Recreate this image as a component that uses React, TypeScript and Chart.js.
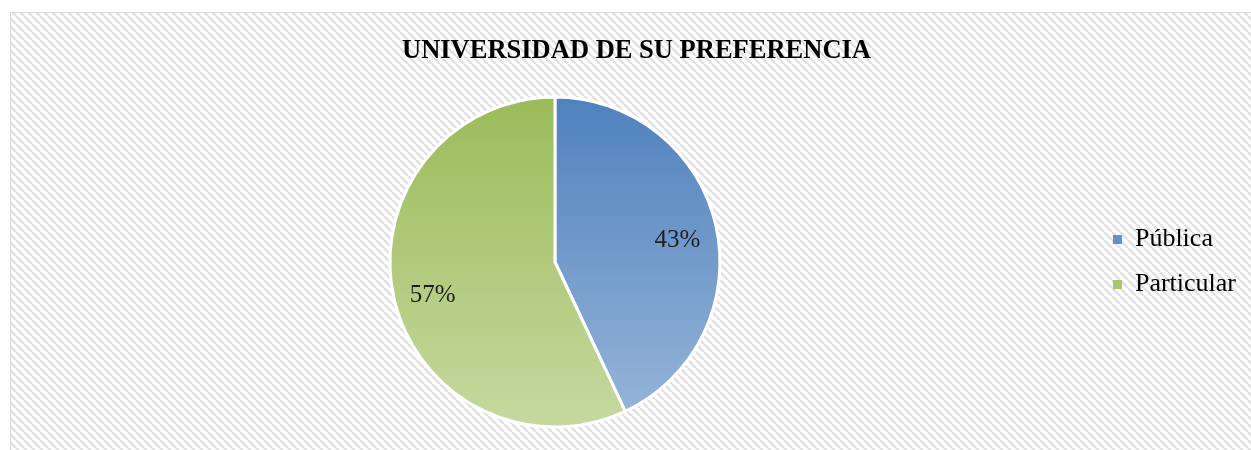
import React, { useEffect, useRef } from 'react';
import { Chart, registerables } from 'chart.js';

Chart.register(...registerables);

const TITLE = 'UNIVERSIDAD DE SU PREFERENCIA';
const categories = ['Pública', 'Particular'];
const values = [43, 57];
const topColors = ['#4F81BD', '#9BBB59'];
const bottomColors = ['#98B6D9', '#C6D9A0'];
const legendColors = ['#6690C8', '#A9C56E'];

const SERIF = "'Liberation Serif', 'Times New Roman', serif";

function makePattern(ctx: CanvasRenderingContext2D) {
  const p = document.createElement('canvas');
  p.width = 8;
  p.height = 8;
  const c = p.getContext('2d')!;
  c.fillStyle = '#ffffff';
  c.fillRect(0, 0, 8, 8);
  c.strokeStyle = '#e1e1e1';
  c.lineWidth = 2.6;
  for (const off of [-8, 0, 8]) {
    c.beginPath();
    c.moveTo(off, 0);
    c.lineTo(off + 8, 8);
    c.stroke();
  }
  return ctx.createPattern(p, 'repeat');
}

const backgroundPlugin = {
  id: 'bgPattern',
  beforeDraw(chart: any) {
    const ctx = chart.ctx as CanvasRenderingContext2D;
    ctx.save();
    ctx.fillStyle = '#ffffff';
    ctx.fillRect(0, 0, chart.width, chart.height);
    const pat = makePattern(ctx);
    if (pat) {
      ctx.fillStyle = pat;
      ctx.fillRect(10, 12, chart.width, chart.height);
    }
    ctx.strokeStyle = '#d9d9d9';
    ctx.lineWidth = 1;
    ctx.strokeRect(10.5, 12.5, chart.width + 10, chart.height + 10);
    ctx.restore();
  },
};

const titleShiftPlugin = {
  id: 'titleShift',
  afterLayout(chart: any) {
    const t = chart.titleBlock;
    if (t) {
      t.left += 5.5;
      t.right += 5.5;
    }
  },
};

const pctLabelPlugin = {
  id: 'pctLabels',
  afterDatasetsDraw(chart: any) {
    const meta = chart.getDatasetMeta(0);
    const ctx = chart.ctx as CanvasRenderingContext2D;
    ctx.save();
    ctx.font = `25px ${SERIF}`;
    ctx.fillStyle = '#1f1f1f';
    ctx.textAlign = 'center';
    ctx.textBaseline = 'middle';
    meta.data.forEach((arc: any, i: number) => {
      const { x, y, startAngle, endAngle, outerRadius } = arc.getProps(
        ['x', 'y', 'startAngle', 'endAngle', 'outerRadius'],
        true
      );
      const mid = (startAngle + endAngle) / 2;
      const rr = outerRadius * 0.76;
      ctx.fillText(`${values[i]}%`, x + Math.cos(mid) * rr, y + Math.sin(mid) * rr + 6);
    });
    ctx.restore();
  },
};

export default function App() {
  const ref = useRef<HTMLCanvasElement>(null);

  useEffect(() => {
    const canvas = ref.current!;
    const chart = new Chart(canvas, {
      type: 'pie',
      data: {
        labels: categories,
        datasets: [
          {
            data: values,
            borderColor: '#ffffff',
            borderWidth: 3,
            backgroundColor: (c: any) => {
              const i = c.dataIndex ?? 0;
              const ch = c.chart;
              const area = ch.chartArea;
              if (!area) return topColors[i];
              const cy = (area.top + area.bottom) / 2;
              const r = Math.min(area.width, area.height) / 2;
              const g = ch.ctx.createLinearGradient(0, cy - r, 0, cy + r);
              g.addColorStop(0, topColors[i]);
              g.addColorStop(1, bottomColors[i]);
              return g;
            },
          },
        ],
      },
      options: {
        responsive: false,
        animation: false,
        events: [],
        layout: { padding: { left: 16, right: 5, top: 14, bottom: 21.5 } },
        plugins: {
          title: {
            display: true,
            text: TITLE,
            color: '#000000',
            font: { family: SERIF, size: 26.5, weight: 'bold' },
            padding: { top: 21, bottom: 28.7 },
          },
          legend: {
            display: true,
            position: 'right',
            fullSize: false,
            labels: {
              font: { family: SERIF, size: 26 },
              color: '#000000',
              boxWidth: 9,
              boxHeight: 9,
              padding: 19,
              generateLabels: () =>
                categories.map((text, i) => ({
                  text,
                  fillStyle: legendColors[i],
                  strokeStyle: legendColors[i],
                  lineWidth: 0,
                  hidden: false,
                  index: i,
                  fontColor: '#000000',
                })),
            },
          },
          tooltip: { enabled: false },
        },
      },
      plugins: [backgroundPlugin, titleShiftPlugin, pctLabelPlugin],
    });
    return () => chart.destroy();
  }, []);

  return (
    <div style={{ position: 'absolute', left: 0, top: 0, width: 1251, height: 450 }}>
      <canvas ref={ref} width={1251} height={450} style={{ display: 'block', width: 1251, height: 450 }} />
    </div>
  );
}
